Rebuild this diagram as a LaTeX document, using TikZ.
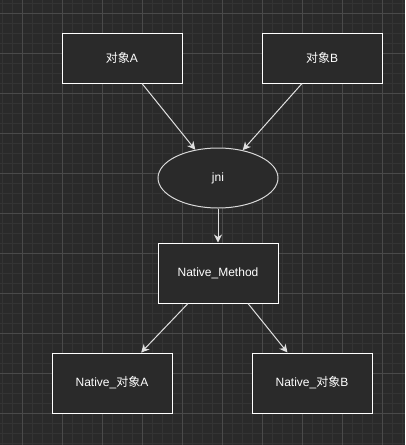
\documentclass[tikz,border=0pt]{standalone}
\usepackage{fontspec}
\setmainfont{Liberation Sans}
\newfontfamily\cjk{Noto Sans CJK SC}
\usetikzlibrary{shapes.geometric,arrows.meta}
\definecolor{bgc}{HTML}{2A2A2A}
\definecolor{minorc}{HTML}{343434}
\definecolor{majorc}{HTML}{4A4A4A}
\tikzset{
  box/.style={draw=white, fill=bgc, line width=1pt, minimum width=120pt, inner sep=0pt, text=white, font=\fontsize{12pt}{14pt}\selectfont},
  oval/.style={ellipse, draw=white!85!black, fill=bgc, line width=1pt, minimum width=120pt, minimum height=60pt, inner sep=0pt, text=white, font=\fontsize{12pt}{14pt}\selectfont},
  conn/.style={draw=white!88!black, line width=1pt, -{Stealth[length=8pt,width=8pt,inset=2.5pt]}}
}
\begin{document}
\begin{tikzpicture}[x=1pt,y=-1pt]
\useasboundingbox (0,0) rectangle (405,445);
\fill[bgc] (0,0) rectangle (405,445);
% minor grid
\foreach \x in {2,12,...,402} \draw[minorc, line width=0.6pt] (\x,0) -- (\x,445);
\foreach \y in {3,13,...,443} \draw[minorc, line width=0.6pt] (0,\y) -- (405,\y);
% major grid
\foreach \x in {22,62,...,402} \draw[majorc, line width=0.8pt] (\x,0) -- (\x,445);
\foreach \y in {13,53,...,443} \draw[majorc, line width=0.8pt] (0,\y) -- (405,\y);

\node[box, minimum height=50pt] (A) at (122,58) {{\cjk 对象}A};
\node[box, minimum height=50pt] (B) at (322,58) {{\cjk 对象}B};
\node[oval] (jni) at (218,178) {jni};
\node[box, minimum height=60pt] (NM) at (218,273) {Native\_Method};
\node[box, minimum height=60pt] (NA) at (112,383) {Native\_{\cjk 对象}A};
\node[box, minimum height=60pt] (NB) at (312,383) {Native\_{\cjk 对象}B};

\draw[conn] ([xshift=20pt]A.south) -- (jni);
\draw[conn] ([xshift=-20pt]B.south) -- (jni);
\draw[conn] (jni) -- (NM);
\draw[conn] ([xshift=-30pt]NM.south) -- (NA);
\draw[conn] ([xshift=30pt]NM.south) -- (NB);
\end{tikzpicture}
\end{document}
